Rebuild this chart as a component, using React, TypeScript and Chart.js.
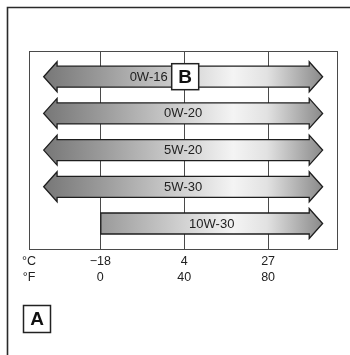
import React, { useEffect, useRef } from "react";
import { Chart, registerables } from "chart.js";

Chart.register(...registerables);

// ---- data ----
const GRADES = ["0W-16", "0W-20", "5W-20", "5W-30", "10W-30"];
const LOW_F = [-27, -27, -27, -27, 0];
const HIGH_F = [106, 106, 106, 106, 106];
const OPEN_LOW = -27; // ranges reaching these limits are open-ended (arrowheads)
const OPEN_HIGH = 106;
const TICK_F = [-34, 0, 40, 80];
const C_LABELS = ["°C", "−18", "4", "27"];
const F_LABELS = ["°F", "0", "40", "80"];
const X_MIN = -34;
const X_MAX = 113;
const MARK_ROW = "0W-16";
const MARK_TEXT = "B";
const MARK_AT_F = 40;
const CORNER_MARK = "A";

const FONT = "'Liberation Sans', Arial, Helvetica, sans-serif";

const arrowPlugin = {
  id: "oilArrows",
  beforeDraw(chart: any) {
    const ctx = chart.ctx;
    ctx.save();
    ctx.fillStyle = "#ffffff";
    ctx.fillRect(0, 0, chart.width, chart.height);
    ctx.strokeStyle = "#2a2a2a";
    ctx.lineWidth = 1.6;
    ctx.beginPath();
    ctx.moveTo(7.5, chart.height);
    ctx.lineTo(7.5, 7.5);
    ctx.lineTo(chart.width, 7.5);
    ctx.stroke();
    ctx.restore();
  },
  beforeDatasetsDraw(chart: any) {
    const { ctx, chartArea: a } = chart;
    ctx.save();
    ctx.strokeStyle = "#4a4a4a";
    ctx.lineWidth = 1;
    ctx.strokeRect(Math.round(a.left) + 0.5, Math.round(a.top) + 0.5, Math.round(a.right - a.left), Math.round(a.bottom - a.top));
    ctx.restore();
  },
  afterDatasetsDraw(chart: any) {
    const ctx = chart.ctx;
    const xs = chart.scales.x;
    const meta = chart.getDatasetMeta(0);
    const gx0 = xs.getPixelForValue(OPEN_LOW);
    const gx1 = xs.getPixelForValue(OPEN_HIGH);
    const grad = ctx.createLinearGradient(gx0, 0, gx1, 0);
    grad.addColorStop(0, "#777777");
    grad.addColorStop(0.2, "#999999");
    grad.addColorStop(0.45, "#c8c8c8");
    grad.addColorStop(0.68, "#f4f4f4");
    grad.addColorStop(0.8, "#e2e2e2");
    grad.addColorStop(1, "#8a8a8a");
    ctx.save();
    meta.data.forEach((bar: any, i: number) => {
      const p = bar.getProps(["x", "y", "base", "height"], true);
      const L = Math.min(p.x, p.base);
      const R = Math.max(p.x, p.base);
      const y = p.y;
      const h = p.height / 2;
      const H = h + 4.5;
      const hl = 13.4;
      const leftHead = LOW_F[i] <= OPEN_LOW;
      const rightHead = HIGH_F[i] >= OPEN_HIGH;
      ctx.beginPath();
      if (leftHead) {
        ctx.moveTo(L, y);
        ctx.lineTo(L + hl, y - H);
        ctx.lineTo(L + hl, y - h);
      } else {
        ctx.moveTo(L, y - h);
      }
      if (rightHead) {
        ctx.lineTo(R - hl, y - h);
        ctx.lineTo(R - hl, y - H);
        ctx.lineTo(R, y);
        ctx.lineTo(R - hl, y + H);
        ctx.lineTo(R - hl, y + h);
      } else {
        ctx.lineTo(R, y - h);
        ctx.lineTo(R, y + h);
      }
      if (leftHead) {
        ctx.lineTo(L + hl, y + h);
        ctx.lineTo(L + hl, y + H);
      } else {
        ctx.lineTo(L, y + h);
      }
      ctx.closePath();
      ctx.fillStyle = grad;
      ctx.fill();
      ctx.strokeStyle = "#1e1e1e";
      ctx.lineWidth = 1.3;
      ctx.lineJoin = "miter";
      ctx.stroke();

      ctx.font = `13px ${FONT}`;
      ctx.fillStyle = "#222222";
      ctx.textBaseline = "middle";
      if (GRADES[i] === MARK_ROW) {
        const cx = xs.getPixelForValue(MARK_AT_F) + 1;
        const bw = 27, bh = 26;
        const bx = cx - bw / 2;
        const by = y - bh / 2;
        ctx.textAlign = "right";
        ctx.fillText(GRADES[i], bx - 4, y + 0.5);
        ctx.fillStyle = "#ffffff";
        ctx.fillRect(bx, by, bw, bh);
        ctx.strokeStyle = "#222222";
        ctx.lineWidth = 1.5;
        ctx.strokeRect(bx, by, bw, bh);
        ctx.fillStyle = "#111111";
        ctx.font = `bold 19px ${FONT}`;
        ctx.textAlign = "center";
        ctx.fillText(MARK_TEXT, cx, y + 1);
      } else {
        ctx.textAlign = "center";
        ctx.fillText(GRADES[i], (L + R) / 2, y + 0.5);
      }
    });
    ctx.restore();
  },
  afterDraw(chart: any) {
    const ctx = chart.ctx;
    ctx.save();
    const bx = 23.5, by = 305.5, bw = 27, bh = 27;
    ctx.strokeStyle = "#222222";
    ctx.lineWidth = 1.5;
    ctx.strokeRect(bx, by, bw, bh);
    ctx.fillStyle = "#111111";
    ctx.font = `bold 19px ${FONT}`;
    ctx.textAlign = "center";
    ctx.textBaseline = "middle";
    ctx.fillText(CORNER_MARK, bx + bw / 2, by + bh / 2 + 1);
    ctx.restore();
  },
};

export default function App() {
  const ref = useRef<HTMLCanvasElement | null>(null);

  useEffect(() => {
    document.body.style.margin = "0";
    const canvas = ref.current;
    if (!canvas) return;
    const chart = new Chart(canvas, {
      type: "bar",
      data: {
        datasets: [
          {
            data: GRADES.map((g, i) => ({ x: [LOW_F[i], HIGH_F[i]], y: i + 1 })) as any,
            backgroundColor: "rgba(0,0,0,0)",
            borderWidth: 0,
            barThickness: 21,
          },
        ],
      },
      options: {
        indexAxis: "y",
        animation: false,
        responsive: false,
        devicePixelRatio: 1,
        events: [],
        plugins: { legend: { display: false }, tooltip: { enabled: false } },
        layout: { padding: { left: 29, top: 51, right: 12.7, bottom: 65.3 } },
        scales: {
          x: {
            type: "linear",
            min: X_MIN,
            max: X_MAX,
            afterBuildTicks: (s: any) => {
              s.ticks = TICK_F.map((v) => ({ value: v }));
            },
            grid: { color: "#4a4a4a", lineWidth: 1, drawTicks: false },
            border: { display: false },
            ticks: {
              autoSkip: false,
              maxRotation: 0,
              padding: 4,
              color: "#222222",
              font: { family: FONT, size: 12.5, lineHeight: 1.3 },
              callback: (_v: any, i: number) => [C_LABELS[i], F_LABELS[i]],
            },
          },
          y: { type: "linear", min: 0.3, max: 5.7, reverse: true, offset: false, display: false },
        },
      } as any,
      plugins: [arrowPlugin],
    });
    return () => chart.destroy();
  }, []);

  return (
    <div style={{ width: 350, height: 355 }}>
      <canvas ref={ref} width={350} height={355} style={{ display: "block", width: 350, height: 355 }} />
    </div>
  );
}
